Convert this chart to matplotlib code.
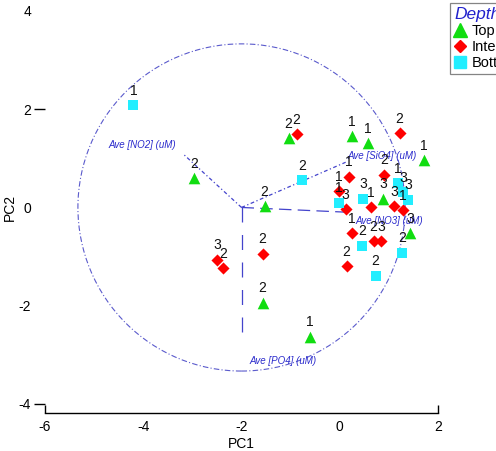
import matplotlib
matplotlib.use("Agg")
import matplotlib.pyplot as plt
from matplotlib.patches import Circle
from matplotlib.lines import Line2D

plt.rcParams['font.family'] = ['Liberation Sans', 'DejaVu Sans']

# --- data -------------------------------------------------------------
top_pc1 = [-2.96, -1.04, -1.53, 0.24, 0.57, 1.71, 0.88, 1.43, -1.57, -0.61]
top_pc2 = [0.59, 1.41, 0.02, 1.45, 1.31, 0.96, 0.18, -0.53, -1.94, -2.63]
top_lab = ['2', '2', '2', '1', '1', '1', '3', '3', '2', '1']

int_pc1 = [-0.88, 1.22, 0.18, 0.90, -0.02, 0.12, 0.63, 1.10, 1.29, 0.24,
           0.14, 0.69, 0.84, -2.49, -2.37, -1.57]
int_pc2 = [1.49, 1.51, 0.63, 0.67, 0.33, -0.04, 0.00, 0.02, -0.06, -0.53,
           -1.20, -0.69, -0.69, -1.06, -1.24, -0.94]
int_lab = ['2', '2', '1', '2', '1', '3', '1', '3', '1', '1',
           '2', '2', '3', '3', '2', '2']

bot_pc1 = [-4.20, -0.76, -0.02, 0.47, 1.18, 1.29, 1.39, 0.45, 0.73, 1.27]
bot_pc2 = [2.08, 0.55, 0.10, 0.18, 0.49, 0.31, 0.16, -0.78, -1.39, -0.92]
bot_lab = ['1', '2', '1', '3', '1', '3', '3', '2', '2', '2']

origin = (-2.0, 0.0)
circle_radius = 3.33
vec_names = ['Ave [NO2] (uM)', 'Ave [SiO4] (uM)', 'Ave [NO3] (uM)', 'Ave [PO4] (uM)']
vec_end_pc1 = [-3.20, 0.12, 0.22, -2.00]
vec_end_pc2 = [1.10, 0.92, -0.10, -2.76]
vec_lab_pc1 = [-4.02, 0.86, 1.00, -1.16]
vec_lab_pc2 = [1.27, 1.04, -0.27, -3.12]

x_ticks = [-6, -4, -2, 0, 2]
y_ticks = [-4, -2, 0, 2, 4]

# --- figure -----------------------------------------------------------
W, H = 496, 451
fig = plt.figure(figsize=(W / 100, H / 100), dpi=100)
ax = fig.add_axes([45 / W, (H - 412.8) / H, 393 / W, (412.8 - 8.5) / H])
ax.set_xlim(-6, 2)
ax.set_ylim(-4.18, 4.05)

vec_color = '#4444cc'
# correlation circle
ax.add_patch(Circle(origin, circle_radius, fill=False, ec='#5a5acc', lw=0.8,
                    ls=(0, (5, 2, 1, 2)), clip_on=False, zorder=1))

styles = [(0, (3, 2, 1, 2)), (0, (3, 2, 1, 2)), (0, (10, 5)), (0, (12, 10))]
for i in range(len(vec_names)):
    ax.plot([origin[0], vec_end_pc1[i]], [origin[1], vec_end_pc2[i]],
            color=vec_color, lw=0.9, ls=styles[i], zorder=1)
    ax.text(vec_lab_pc1[i], vec_lab_pc2[i], vec_names[i], color='#2a2acc',
            fontsize=7, style='italic', ha='center', va='center', zorder=2)

green, red, cyan = '#11dd11', '#ff0000', '#22eeff'
ax.scatter(top_pc1, top_pc2, marker='^', s=70, c=green, lw=0, zorder=3)
ax.scatter(int_pc1, int_pc2, marker='D', s=38, c=red, lw=0, zorder=3)
ax.scatter(bot_pc1, bot_pc2, marker='s', s=55, c=cyan, lw=0, zorder=3)

for xs, ys, ls in [(top_pc1, top_pc2, top_lab), (int_pc1, int_pc2, int_lab),
                   (bot_pc1, bot_pc2, bot_lab)]:
    for x, y, l in zip(xs, ys, ls):
        ax.annotate(l, (x, y), xytext=(0, 10.5), textcoords='offset points',
                    ha='center', va='center', fontsize=10, color='#111111',
                    zorder=4)

# axes styling: range frame
for s in ['top', 'right', 'left']:
    ax.spines[s].set_visible(False)
ax.spines['bottom'].set_bounds(-6, 2)
ax.spines['bottom'].set_linewidth(1.0)
ax.set_xticks(x_ticks)
ax.set_yticks(y_ticks)
ax.set_xticklabels([str(t) for t in x_ticks])
ax.set_yticklabels([str(t) for t in y_ticks])
ax.tick_params(axis='x', direction='in', length=6, width=1, pad=5, labelsize=10)
ax.tick_params(axis='y', direction='out', length=8, width=1, pad=2, labelsize=10)
for t, v in zip(ax.xaxis.get_major_ticks(), x_ticks):
    if v not in (-6, 2):
        t.tick1line.set_visible(False)
for t, v in zip(ax.yaxis.get_major_ticks(), y_ticks):
    if v not in (2, -4):
        t.tick1line.set_visible(False)
ax.set_xlabel('PC1', fontsize=10, labelpad=2)
fig.text(10 / W, 1 - 207 / H, 'PC2', rotation=90, ha='center', va='center', fontsize=10)

# legend
handles = [Line2D([], [], marker='^', ls='', color=green, ms=10),
           Line2D([], [], marker='D', ls='', color=red, ms=6.5),
           Line2D([], [], marker='s', ls='', color=cyan, ms=8)]
leg = fig.legend(handles, ['Top', 'Intermediate', 'Bottom'], title='Depth',
                 loc='upper left', bbox_to_anchor=(450 / W, 1 - 3 / H),
                 fontsize=10.5, frameon=True, fancybox=False, edgecolor='#666666',
                 handlelength=0.8, handletextpad=0.4, labelspacing=0.12,
                 borderpad=0.3, borderaxespad=0)
leg.get_title().set_color('#2222cc')
leg.get_title().set_style('italic')
leg.get_title().set_fontsize(12.5)
leg._legend_box.align = 'left'
leg.get_frame().set_linewidth(0.9)

fig.savefig('out.png', dpi=100)
